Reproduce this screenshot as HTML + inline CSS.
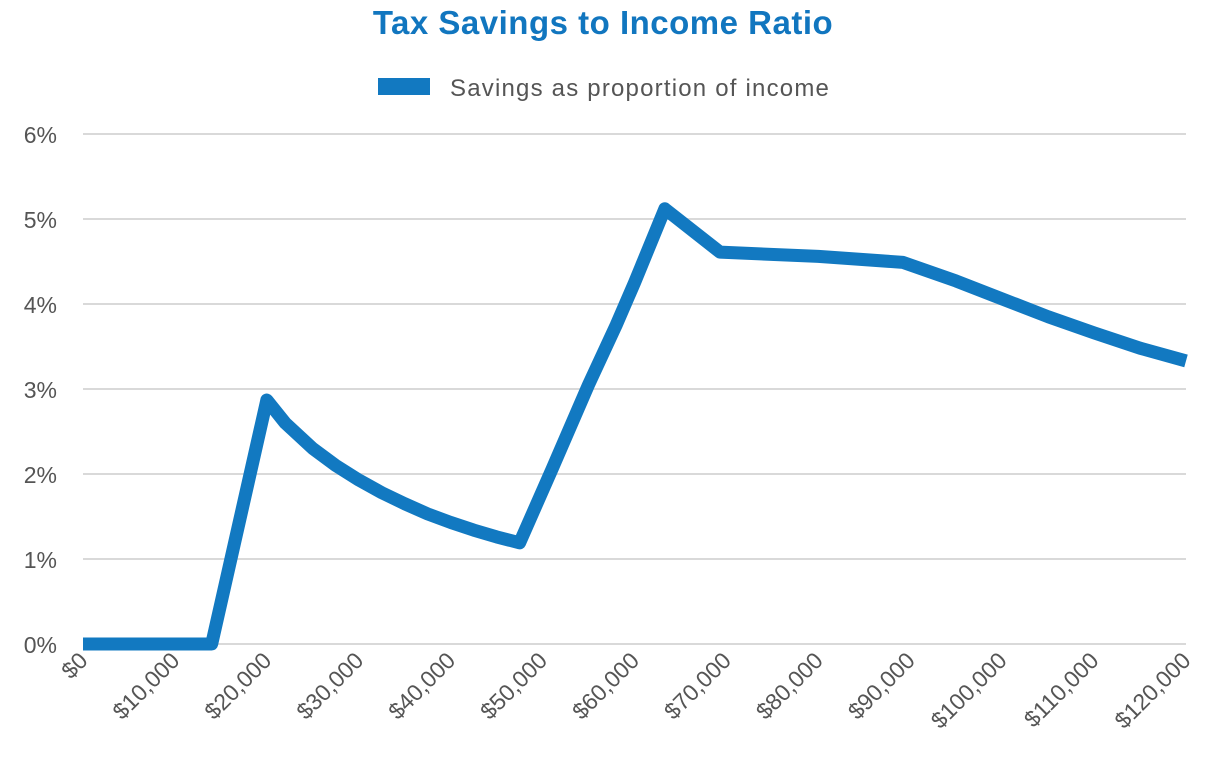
<!DOCTYPE html>
<html><head><meta charset="utf-8"><style>
body{margin:0;background:#fff;}
svg text{font-family:"Liberation Sans",sans-serif;}
</style></head><body>
<svg width="1208" height="759">
<text x="603" y="34" text-anchor="middle" font-size="33" font-weight="bold" letter-spacing="0.5" fill="#1176bf">Tax Savings to Income Ratio</text>
<g>
<rect x="378" y="78" width="52" height="17" fill="#1279c1"/>
<text x="450" y="96" font-size="24" letter-spacing="1.2" fill="#555">Savings as proportion of income</text>
</g>
<g id="grid"></g><g id="yt"></g><g id="xt"></g>
<path id="line" fill="none" stroke="#1279c1" stroke-width="13" stroke-linejoin="round"/>
</svg>
<script>
const incomes=[0,14000,20000,22000,25000,27500,30000,32500,35000,37500,40000,42500,45000,47500,51000,55000,58000,60000,63300,69300,80000,89200,95000,100000,105000,110000,115000,120000];
const ratios=[0,0,2.87,2.6,2.3,2.1,1.93,1.78,1.65,1.53,1.43,1.34,1.26,1.19,2.05,3.05,3.75,4.25,5.12,4.61,4.56,4.49,4.27,4.06,3.85,3.66,3.48,3.33];
const yTicks=[0,1,2,3,4,5,6];
const xTicks=[0,10000,20000,30000,40000,50000,60000,70000,80000,90000,100000,110000,120000];
const X=v=>83+v/120000*1103, Y=v=>644-v*85;
const ns="http://www.w3.org/2000/svg";
const g=document.getElementById('grid'),yt=document.getElementById('yt'),xt=document.getElementById('xt');
yTicks.forEach(t=>{
 const l=document.createElementNS(ns,'line');
 l.setAttribute('x1',83);l.setAttribute('x2',1186);l.setAttribute('y1',Y(t));l.setAttribute('y2',Y(t));
 l.setAttribute('stroke','#d9d9d9');l.setAttribute('stroke-width','2');
 
 
 g.appendChild(l);
 const s=document.createElementNS(ns,'text');
 s.setAttribute('x',57);s.setAttribute('y',Y(t)+9);s.setAttribute('text-anchor','end');
 s.setAttribute('font-size','23');s.setAttribute('fill','#555');s.textContent=t+'%';
 
 
 yt.appendChild(s);
});
xTicks.forEach(t=>{
 const s=document.createElementNS(ns,'text');
 const x=X(t)+6,y=662;
 s.setAttribute('transform',`translate(${x},${y}) rotate(-45)`);
 s.setAttribute('text-anchor','end');s.setAttribute('font-size','23');s.setAttribute('fill','#555');
 s.textContent='$'+t.toLocaleString('en-US');
 
 
 xt.appendChild(s);
});
document.getElementById('line').setAttribute('d',incomes.map((v,i)=>(i?'L':'M')+X(v)+','+Y(ratios[i])).join(' '));
</script>
</body></html>
